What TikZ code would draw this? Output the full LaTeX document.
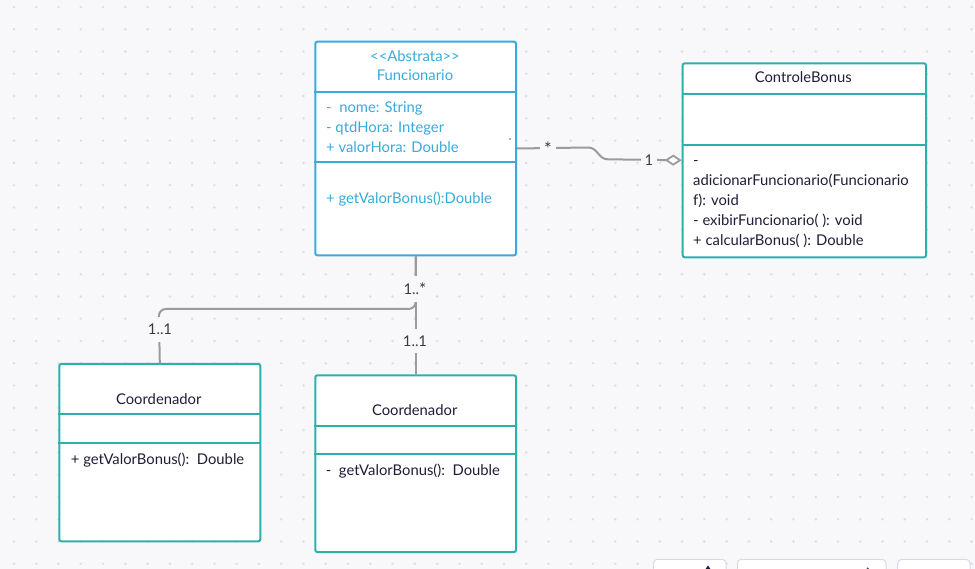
\documentclass[tikz,border=0pt]{standalone}
\usepackage{fontspec}
\setmainfont{Lato}
\usetikzlibrary{arrows.meta,calc}
\definecolor{bgc}{RGB}{248,248,250}
\definecolor{dotc}{RGB}{222,222,228}
\definecolor{bluec}{RGB}{56,170,220}
\definecolor{tealc}{RGB}{44,176,172}
\definecolor{navy}{RGB}{30,30,56}
\definecolor{linec}{RGB}{155,155,155}
\definecolor{labc}{RGB}{60,60,60}
\definecolor{uic}{RGB}{218,218,228}
\begin{document}
\begin{tikzpicture}[x=1pt,y=-1pt,
  font=\fontsize{14.8}{20}\selectfont,
  boxbase/.style={line width=2pt, fill=white, rounded corners=2pt, inner sep=0pt, anchor=north west},
  bluebox/.style={boxbase, draw=bluec},
  tealbox/.style={boxbase, draw=tealc},
  bluetxt/.style={text=bluec, inner sep=0pt},
  navytxt/.style={text=navy, inner sep=0pt},
  divblue/.style={draw=bluec, line width=2pt},
  divteal/.style={draw=tealc, line width=2pt},
  conn/.style={draw=linec, line width=2pt},
  mult/.style={text=labc, fill=bgc, inner xsep=4pt, inner ysep=7pt},
  uibox/.style={draw=uic, fill=white, line width=1pt, rounded corners=4pt}
]
% background and grid
\fill[bgc] (0,0) rectangle (975,569);
\useasboundingbox (0,0) rectangle (975,569);
\foreach \i in {0,...,43}{
  \foreach \j in {0,...,25}{
    \fill[dotc] ({14+22.27*\i},{7+22.27*\j}) circle (1.4);
  }
}

% ---------- Funcionario ----------
\node[bluebox, minimum width=200.7pt, minimum height=213.6pt] (func) at (314.3,40.7) {};
\draw[divblue] ($(func.north west)+(0,51)$) -- ($(func.north east)+(0,51)$);
\draw[divblue] ($(func.north west)+(0,121.6)$) -- ($(func.north east)+(0,121.6)$);
\node[bluetxt, anchor=base] (fst) at (415,62) {<\kern0pt<Abstrata>\kern0pt>};
\node[bluetxt, anchor=base] (fname) at (415,81) {Funcionario};
\node[bluetxt, anchor=base west] (fa1) at (326,113) {-\ \ nome: String};
\node[bluetxt, anchor=base west] (fa2) at (326,133) {- qtdHora: Integer};
\node[bluetxt, anchor=base west] (fa3) at (326,152.5) {+ valorHora: Double};
\node[bluetxt, anchor=base west] (fm1) at (326,204) {+ getValorBonus():Double};

% ---------- ControleBonus ----------
\node[tealbox, minimum width=243.3pt, minimum height=194pt] (cb) at (681.7,62.3) {};
\draw[divteal] ($(cb.north west)+(0,31.7)$) -- ($(cb.north east)+(0,31.7)$);
\draw[divteal] ($(cb.north west)+(0,82.7)$) -- ($(cb.north east)+(0,82.7)$);
\node[navytxt, anchor=base] (cbname) at (803.3,83) {ControleBonus};
\node[navytxt, anchor=base west] (cbm1) at (693,165.5) {-};
\node[navytxt, anchor=base west] (cbm2) at (693,185.5) {adicionarFuncionario(Funcionario};
\node[navytxt, anchor=base west] (cbm3) at (693,205.5) {f): void};
\node[navytxt, anchor=base west] (cbm4) at (693,225.5) {- exibirFuncionario( ): void};
\node[navytxt, anchor=base west] (cbm5) at (693,245.5) {+ calcularBonus( ): Double};

% ---------- Coordenador (left) ----------
\node[tealbox, minimum width=201pt, minimum height=177.3pt] (coordA) at (58.3,363) {};
\draw[divteal] ($(coordA.north west)+(0,51.3)$) -- ($(coordA.north east)+(0,51.3)$);
\draw[divteal] ($(coordA.north west)+(0,80.3)$) -- ($(coordA.north east)+(0,80.3)$);
\node[navytxt, anchor=base] (caname) at (158.8,404) {Coordenador};
\node[navytxt, anchor=base west] (cam) at (70.7,464.5) {+ getValorBonus():\ \ Double};

% ---------- Coordenador (right) ----------
\node[tealbox, minimum width=200.7pt, minimum height=176.7pt] (coordB) at (314.3,374.3) {};
\draw[divteal] ($(coordB.north west)+(0,51.4)$) -- ($(coordB.north east)+(0,51.4)$);
\draw[divteal] ($(coordB.north west)+(0,80)$) -- ($(coordB.north east)+(0,80)$);
\node[navytxt, anchor=base] (cbbname) at (414.7,415) {Coordenador};
\node[navytxt, anchor=base west] (cbbm) at (325.7,475) {-\ \ getValorBonus():\ \ Double};

% ---------- aggregation Funcionario -> ControleBonus ----------
\coordinate (ag1) at (588,147.5);
\coordinate (ag2) at (608,159.3);
\draw[conn, -{Diamond[fill=white, length=17pt, width=11pt, line width=1.8pt]}]
  (func.east) -- (ag1) .. controls (598,147.5) and (598,159.3) .. (ag2) -- (cb.west);
\node[mult] (mstar) at (548,149) {\fontsize{18}{20}\selectfont *};
\node[mult] (mone) at (649,160) {1};
\fill[linec!70!black] (510,139) circle (0.8);

% ---------- Funcionario -> Coordenadores ----------
\coordinate (bend) at (158.8,309);
\draw[conn] (func.south) -- (coordB.north);
\draw[conn, rounded corners=7pt] (func.south) |- (bend) -- (coordA.north);
\node[mult] (m1) at (415,289) {1..\raisebox{-1pt}{\fontsize{17}{20}\selectfont *}};
\node[mult] (m2) at (160,329.5) {1..1};
\node[mult] (m3) at (415,341) {1..1};

% ---------- UI pieces at the bottom ----------
\draw[uibox] (653.3,559.3) rectangle (726,590);
\draw[uibox] (737.3,559.3) rectangle (886,590);
\draw[uibox] (897.7,559.3) rectangle (970,590);
\fill[navy] (705.3,569.5) -- (708,565.5) -- (710.7,569.5) -- cycle;
\fill[navy!80] (867.8,568.5) circle (1.1);
\end{tikzpicture}
\end{document}
